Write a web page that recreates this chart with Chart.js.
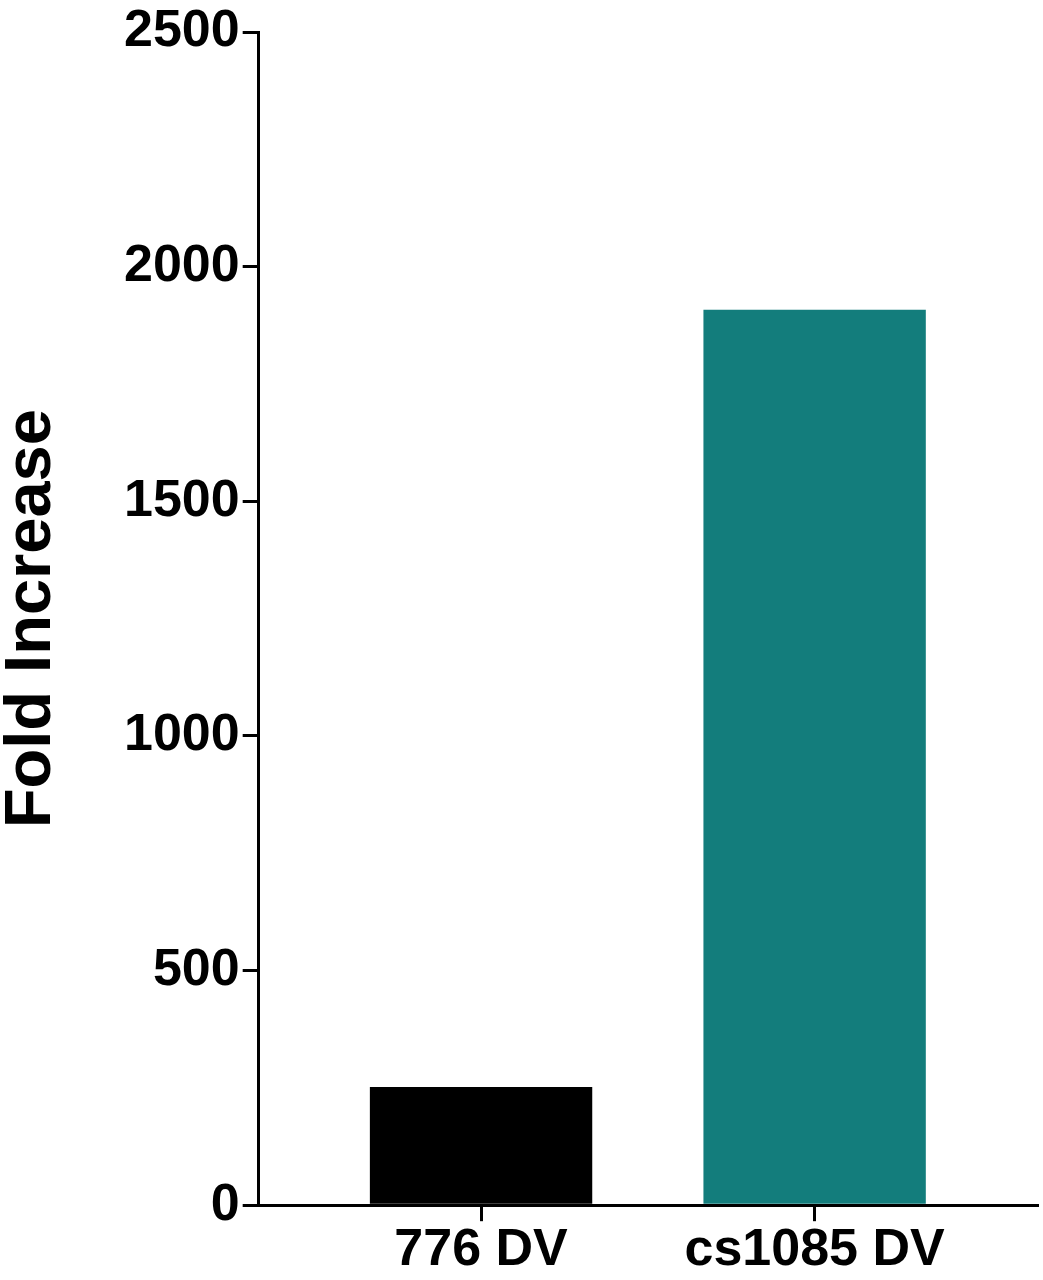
<!DOCTYPE html>
<html>
<head>
<meta charset="utf-8">
<script src="https://cdn.jsdelivr.net/npm/chart.js@4"></script>
<style>
  html, body { margin: 0; padding: 0; background: #fff; }
  canvas { display: block; }
</style>
</head>
<body>
<canvas id="foldChart" width="1043" height="1280"></canvas>
<script>
// Values
var strains = ['776 DV', 'cs1085 DV'];
var foldIncrease = [252, 1908];
var barColors = ['#000000', '#137d7c'];
var yTicks = [0, 500, 1000, 1500, 2000, 2500];

// bars sit on a linear x scale: one unit gap, two units bar, repeated
function slotFor(i) { return 2 + i * 3; }

var barPoints = foldIncrease.map(function (v, i) {
    return { x: slotFor(i), y: v };
});

var fontFamily = "'Liberation Sans', Arial, Helvetica, sans-serif";

var ctx = document.getElementById('foldChart').getContext('2d');
var foldChart = new Chart(ctx, {
    type: 'bar',
    data: {
        datasets: [{
            data: barPoints,
            backgroundColor: barColors,
            borderWidth: 0,
            categoryPercentage: 1,
            barPercentage: 2 / 3
        }]
    },
    options: {
        responsive: false,
        animation: false,
        devicePixelRatio: 1,
        layout: {
            padding: { left: 0, right: 6, top: 32, bottom: 0 }
        },
        plugins: {
            legend: { display: false },
            tooltip: { enabled: false }
        },
        scales: {
            x: {
                type: 'linear',
                min: 0,
                max: strains.length * 3 + 1,
                offset: false,
                afterBuildTicks: function (scale) {
                    scale.ticks = strains.map(function (s, i) {
                        return { value: slotFor(i) };
                    });
                },
                ticks: {
                    autoSkip: false,
                    maxRotation: 0,
                    padding: 6,
                    color: '#000',
                    font: { family: fontFamily, size: 52, weight: 'bold', lineHeight: 0.9 },
                    callback: function (value) {
                        var i = (value - 2) / 3;
                        return strains[i] !== undefined ? strains[i] : '';
                    }
                },
                grid: {
                    offset: false,
                    drawOnChartArea: false,
                    tickLength: 16,
                    color: '#000',
                    lineWidth: 3
                },
                border: { color: '#000', width: 3 }
            },
            y: {
                min: 0,
                max: 2500,
                afterBuildTicks: function (scale) {
                    scale.ticks = yTicks.map(function (v) { return { value: v }; });
                },
                ticks: {
                    padding: 3,
                    color: '#000',
                    font: { family: fontFamily, size: 52, weight: 'bold', lineHeight: 1 },
                    callback: function (value) { return String(value); }
                },
                grid: {
                    drawOnChartArea: false,
                    tickLength: 16,
                    color: '#000',
                    lineWidth: 3
                },
                border: { color: '#000', width: 3 },
                title: {
                    display: true,
                    text: 'Fold Increase',
                    color: '#000',
                    font: { family: fontFamily, size: 65, weight: 'bold', lineHeight: 1 },
                    padding: { top: 0, bottom: 56 }
                }
            }
        }
    }
});
</script>
</body>
</html>
